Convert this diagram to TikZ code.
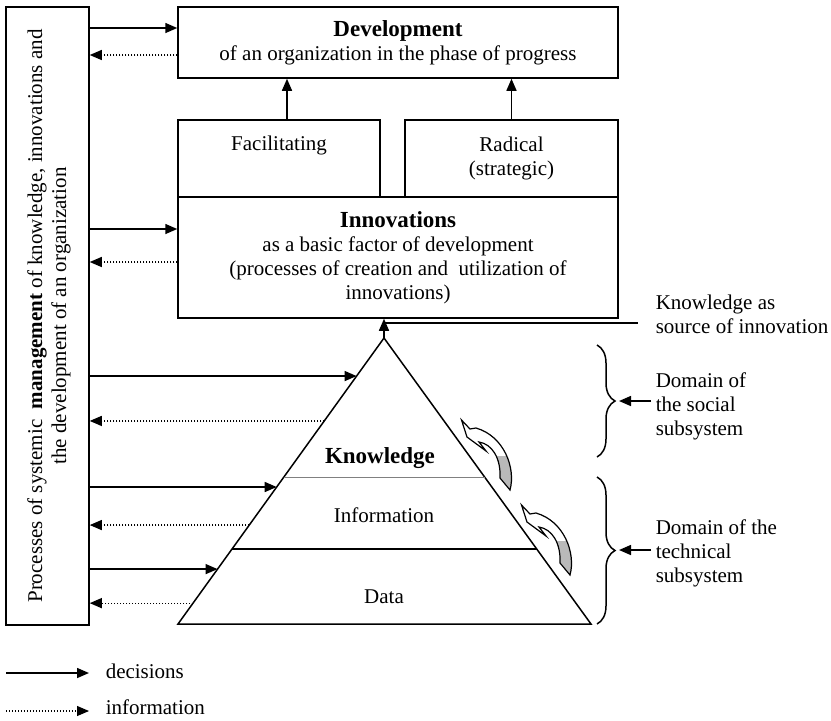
\documentclass[tikz,border=0pt]{standalone}
\usepackage{fontspec}
\setmainfont{Liberation Serif}
\usetikzlibrary{arrows.meta,calc,decorations.pathreplacing}

\newcommand{\headword}[1]{{\fontsize{11.5}{13}\selectfont\bfseries #1}}

\begin{document}
\begin{tikzpicture}[%
    x=0.5pt, y=-0.5pt,                  % one unit is one pixel of the scan, y downwards
    >={Triangle[length=6pt,width=5pt]}, % filled heads
    line width=0.75pt,
    ]
% -------------------------------------------------
% Box and line styles
\tikzset{
  txt/.style={font=\fontsize{10.5}{12}\selectfont, align=center, inner sep=2pt},
  box/.style={draw, rectangle, txt},
  % connector line styles: decisions and information
  dec/.style={->},
  info/.style={->, line width=0.6pt, dash pattern=on 0.6pt off 0.9pt},
  brc/.style={decorate, decoration={brace, amplitude=9pt}},
  lvl/.style={draw=gray, line width=0.5pt},
  bentarrow/.style={line width=0.6pt},
}
\useasboundingbox (0,0) rectangle (831,720);
% -------------------------------------------------
% The boxes
\node [box, minimum width=41.5pt, minimum height=309pt] (mgmt) at (47.5,316) {};
\node [txt, rotate=90] (mgmttxt) at (49,316)
  {Processes of systemic\ \ \textbf{management} of knowledge, innovations and\\
   the development of an organization};
\node [box, minimum width=220pt, minimum height=35.5pt] (dev) at (398,42.5)
  {\headword{Development}\\ of an organization in the phase of progress};
\node [box, minimum width=101pt, minimum height=38.5pt] (fac) at (279,158.5)
  {Facilitating\\ \strut};
\node [box, minimum width=106.5pt, minimum height=38.5pt] (rad) at (511.5,158.5)
  {Radical\\ (strategic)};
\node [box, minimum width=220pt, minimum height=60.5pt] (inno) at (398,257.5)
  {\headword{Innovations}\\ as a basic factor of development\\
   (processes of creation and\ \ utilization of\\ innovations)};

% -------------------------------------------------
% The pyramid
\coordinate (apex) at (384,338);
\coordinate (bl) at (178,624);
\coordinate (br) at (591,624);
\draw (bl) -- (apex) -- (br) -- cycle;
\draw [lvl] ($(apex)!.486!(bl)$) -- ($(apex)!.486!(br)$);
\draw ($(apex)!.738!(bl)$) -- ($(apex)!.738!(br)$);
\node [txt] (know) at (380,458) {\headword{Knowledge}};
\node [txt] (infor) at (384,515) {Information};
\node [txt] (data) at (384,597) {Data};

% bent arrows along the right side
\foreach \dx/\dy in {0/0, 60/85} {
  \begin{scope}[shift={(\dx,\dy)}]
    \clip (440,456) rectangle (540,500);
    \fill [gray!55] (461.5,420) -- (467,437) -- (486,451) -- (479,442)
      .. controls (492,444) and (501,458) .. (500,478) -- (510,490)
      .. controls (516,468) and (504,436) .. (476,428) -- (470,429) -- cycle;
  \end{scope}
  \draw [bentarrow, shift={(\dx,\dy)}] (461.5,420) -- (467,437) -- (486,451) -- (479,442)
    .. controls (492,444) and (501,458) .. (500,478) -- (510,490)
    .. controls (516,468) and (504,436) .. (476,428) -- (470,429) -- cycle;
}

% -------------------------------------------------
% Upward connectors
\coordinate (f1) at ([xshift=4pt]fac.north);
\draw [dec] (f1) -- (f1 |- dev.south);
\draw [dec] (rad.north) -- (rad.north |- dev.south);
\draw [dec] (apex) -- (apex |- inno.south);
\coordinate (src) at (638,323);
\draw (apex |- src) -- (src);
\node [txt, align=left, anchor=west] (srctxt) at (651,314)
  {Knowledge as\\ source of innovation};

% Decisions and information between management and the rest
\coordinate (d1) at ([yshift=7.25pt]dev.west);
\coordinate (d2) at ([yshift=-6.25pt]dev.west);
\draw [dec] (mgmt.east |- d1) -- (d1);
\draw [info] (d2) -- (mgmt.east |- d2);
\coordinate (i1) at ([yshift=14.25pt]inno.west);
\coordinate (i2) at ([yshift=-2.25pt]inno.west);
\draw [dec] (mgmt.east |- i1) -- (i1);
\draw [info] (i2) -- (mgmt.east |- i2);
\foreach \a/\b [count=\n] in {.133/.290, .521/.654, .808/.927} {
  \coordinate (p\n) at ($(apex)!\a!(bl)$);
  \coordinate (q\n) at ($(apex)!\b!(bl)$);
  \draw [dec] (mgmt.east |- p\n) -- (p\n);
  \draw [info] (q\n) -- (mgmt.east |- q\n);
}

% -------------------------------------------------
% Domains
\draw [brc] (597,345) -- (597,457);
\draw [brc] (597,477) -- (597,624);
\node [txt, align=left, anchor=west] (soc) at (651,406)
  {Domain of\\ the social\\ subsystem};
\node [txt, align=left, anchor=west] (tech) at (651,553)
  {Domain of the\\ technical\\ subsystem};
\coordinate (sb) at (619,401);
\coordinate (tb) at (619,550);
\draw [dec] (soc.west |- sb) -- (sb);
\draw [dec] (tech.west |- tb) -- (tb);

% -------------------------------------------------
% Legend
\node [txt, anchor=west] (decis) at (101,671) {decisions};
\node [txt, anchor=west] (infos) at (101,707) {information};
\coordinate (l1) at (6,673);
\coordinate (l2) at (6,711);
\draw [dec] (l1) -- (l1 -| 89,0);
\draw [info] (l2) -- (l2 -| 89,0);
% -------------------------------------------------
\end{tikzpicture}
\end{document}
